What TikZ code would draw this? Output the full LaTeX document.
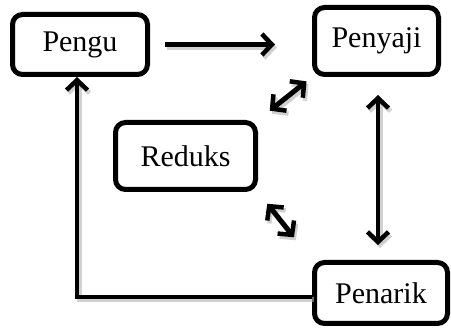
\documentclass[tikz,border=0pt]{standalone}
\usepackage{fontspec}
\setmainfont{Liberation Serif}
\usetikzlibrary{arrows.meta,calc}
\begin{document}
\begin{tikzpicture}[x=1pt,y=-1pt,
  box/.style={draw=black,line width=5pt,rounded corners=10pt,fill=white,
    inner sep=0pt,font=\fontsize{30}{34}\selectfont},
  conn/.style={line width=4.5pt,draw=black,
    preaction={draw=black!30,opacity=0.6,line width=5pt,transform canvas={xshift=2pt,yshift=-3pt}}},
  tip/.style={-{Straight Barb[length=10pt,width=21pt,line width=4.5pt]}},
  dtip/.style={{Straight Barb[length=10pt,width=21pt,line width=4.5pt]}-{Straight Barb[length=10pt,width=21pt,line width=4.5pt]}}
]
\useasboundingbox (0,0) rectangle (451,329);
\node[box,minimum width=135pt,minimum height=60pt] (pengu) at (80,44.5) {Pengu};
\node[box,minimum width=124pt,minimum height=67pt] (penyaji) at (376.5,41) {Penyaji};
\node[box,minimum width=140pt,minimum height=67pt] (reduks) at (185.5,156) {Reduks};
\node[box,minimum width=133pt,minimum height=61pt] (penarik) at (381,293) {Penarik};

\draw[conn,tip,shorten <=15pt,shorten >=37pt] (pengu.east) -- (pengu.east -| penyaji.west);
\draw[conn,dtip,shorten <=18pt,shorten >=15pt] ([xshift=1.5pt]penyaji.south) -- ([xshift=1.5pt]penyaji.south |- penarik.north);
\draw[conn,dtip,line width=5pt,shorten <=15pt,shorten >=7pt] (reduks.north east) -- (penyaji.south west);
\draw[conn,dtip,line width=5pt,shorten <=15pt,shorten >=29pt] (reduks.south east) -- (penarik.north west);
\draw[conn,tip] (penarik.west |- 0,297) -- (77,297) -- (pengu.south -| 77,0);
\end{tikzpicture}
\end{document}
